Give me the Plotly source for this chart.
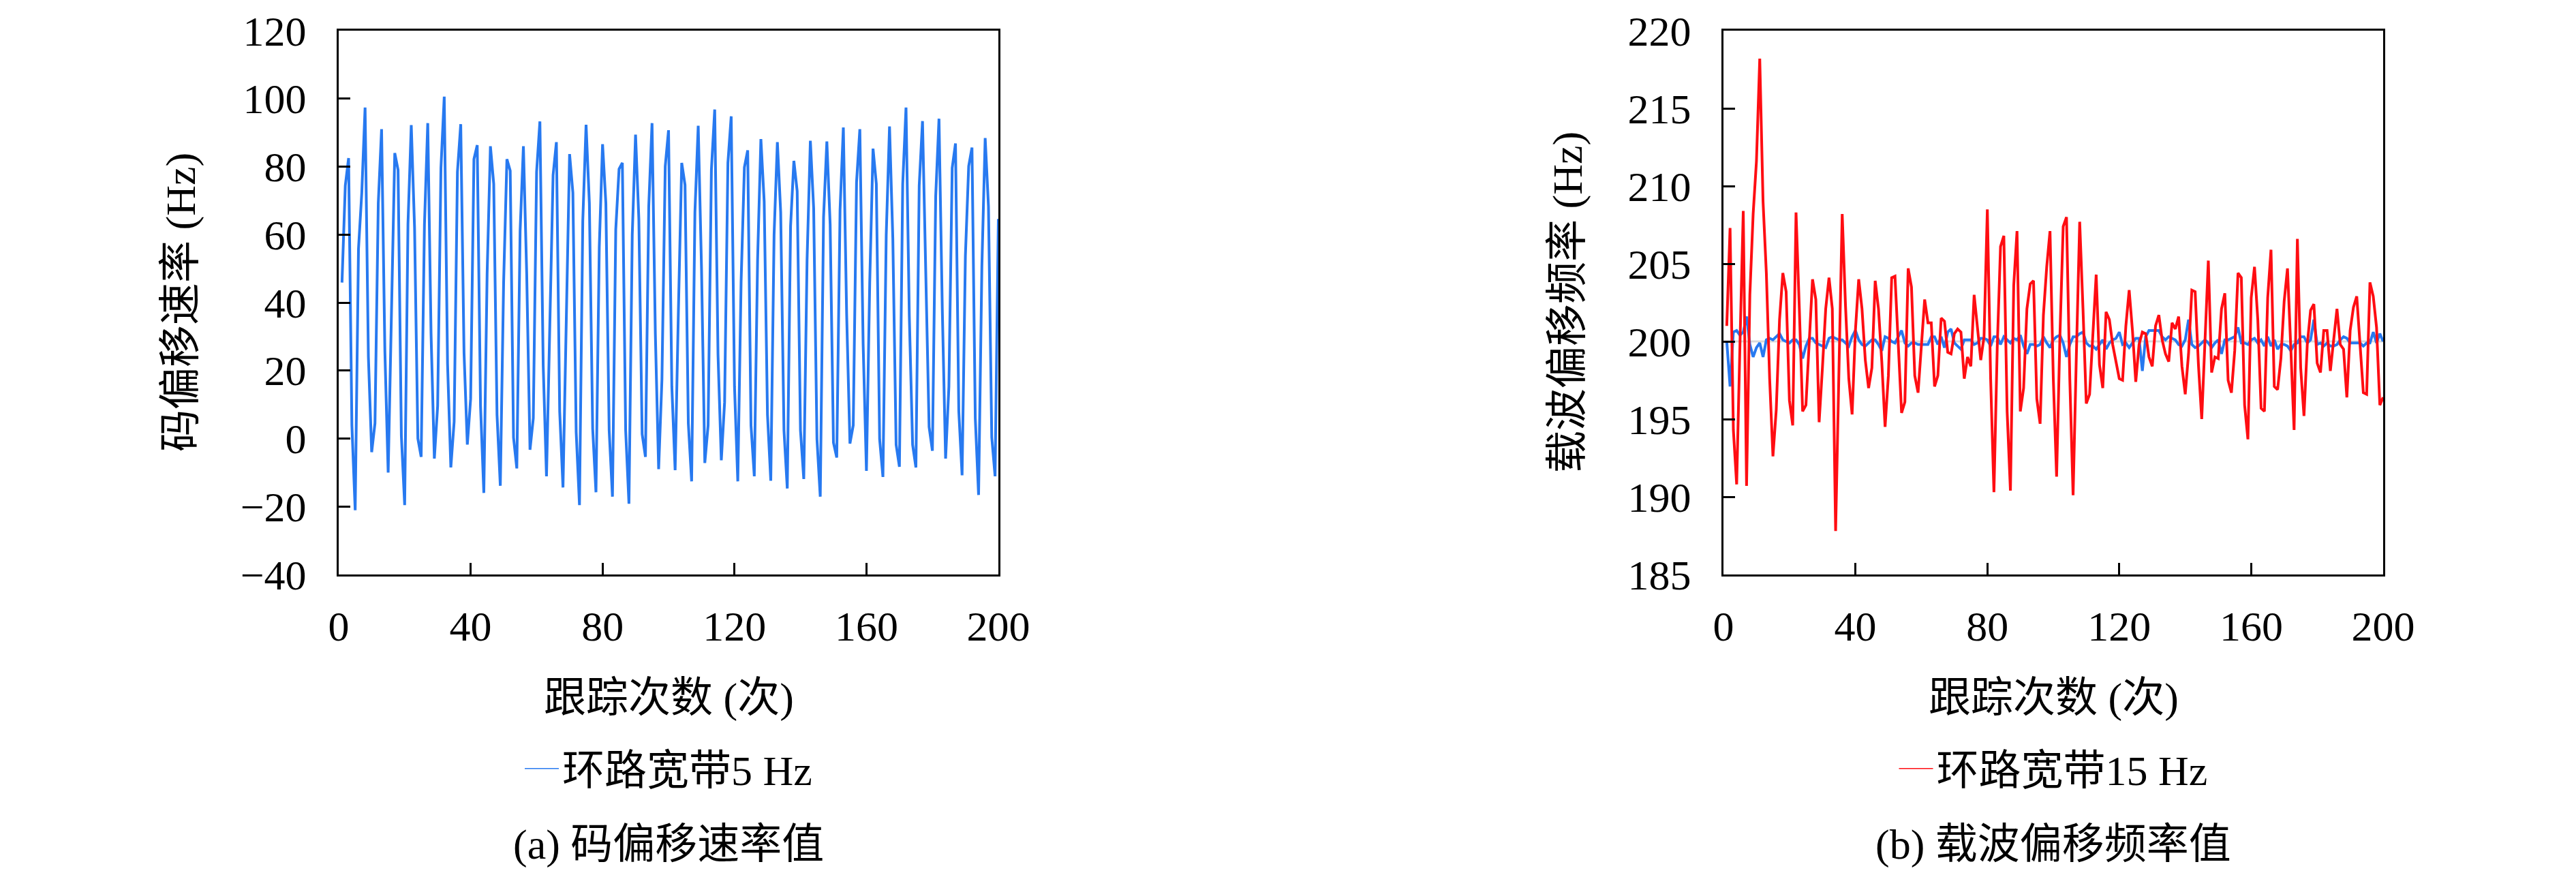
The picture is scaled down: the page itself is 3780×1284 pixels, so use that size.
import plotly.graph_objects as go

# tracking index 1..200
steps = list(range(1, 201))

# (a) code offset rate, loop bandwidth 5 Hz
code_rate_5hz = [
    45.9, 74.4, 82.5, 3.9, -21.1, 55.8, 72.3, 97.4, 24.1, -4.0,
    4.5, 69.2, 91.0, 25.7, -10.0, 37.0, 84.0, 79.0, 0.8, -19.6,
    63.0, 92.2, 62.0, 0.0, -5.4, 63.0, 92.8, 30.9, -5.9, 9.6,
    79.6, 100.6, 22.0, -8.5, 5.0, 78.5, 92.5, 25.2, -1.8, 11.7,
    82.2, 86.3, 9.6, -16.0, 48.5, 86.0, 74.9, 7.0, -13.9, 45.9,
    82.2, 78.8, 0.3, -8.8, 61.0, 86.0, 48.5, -3.3, 6.0, 78.5,
    93.3, 21.6, -11.1, 33.0, 77.5, 87.2, 8.0, -14.4, 40.0, 83.7,
    72.3, 1.9, -19.6, 64.0, 92.3, 69.2, 2.9, -15.8, 56.3, 86.6,
    69.2, 2.4, -17.1, 61.5, 79.3, 81.1, 2.4, -19.2, 59.9, 89.4,
    64.6, 1.3, -5.4, 68.2, 92.8, 30.9, -9.0, 17.4, 80.1, 90.7,
    15.3, -9.3, 38.0, 81.1, 74.6, 4.5, -12.6, 66.6, 92.0, 50.0,
    -7.2, 3.9, 79.1, 96.8, 24.7, -6.4, 10.7, 81.1, 94.8, 15.3,
    -12.6, 46.0, 79.8, 84.8, 3.9, -11.1, 52.6, 88.1, 69.7, 7.0,
    -12.4, 59.9, 87.2, 66.6, 2.4, -14.7, 62.5, 81.7, 72.8, 2.4,
    -11.9, 52.6, 87.6, 67.7, -0.2, -17.1, 65.1, 87.4, 63.0, -1.2,
    -5.6, 67.2, 91.5, 36.6, -1.5, 3.9, 75.4, 91.0, 27.8, -9.5,
    46.0, 85.3, 74.9, -0.2, -11.3, 59.9, 91.8, 58.9, -1.8, -8.3,
    74.9, 97.4, 36.0, -1.8, -8.5, 74.4, 93.4, 45.4, 3.4, -3.6,
    71.3, 94.1, 38.1, -5.9, 15.3, 79.6, 86.8, 8.1, -10.8, 53.7,
    80.1, 85.6, 6.0, -16.6, 50.6, 88.4, 68.2, 0.3, -11.1, 64.6,
]

# (b) carrier offset frequency, 15 Hz loop (red) and 5 Hz loop (blue)
carrier_15hz = [
    201.0, 207.3, 194.3, 190.8, 199.8, 208.4, 190.7, 203.0, 208.2, 211.6,
    218.2, 209.0, 204.4, 197.6, 192.6, 195.6, 201.4, 204.4, 203.2, 196.2,
    194.6, 208.3, 202.1, 195.5, 195.9, 199.8, 204.0, 202.7, 194.8, 198.3,
    202.1, 204.1, 202.1, 187.8, 198.0, 208.2, 202.3, 197.6, 195.3, 200.7,
    204.0, 202.1, 198.8, 197.0, 198.3, 203.9, 202.1, 198.7, 194.5, 197.8,
    204.1, 204.2, 199.8, 195.4, 196.1, 204.7, 203.5, 197.8, 196.7, 199.8,
    202.7, 201.2, 201.2, 197.1, 197.8, 201.5, 201.3, 199.3, 199.2, 200.5,
    200.8, 200.6, 197.6, 199.0, 198.4, 203.0, 200.7, 198.8, 200.3, 208.5,
    197.6, 190.3, 199.6, 206.1, 206.8, 195.5, 190.4, 203.6, 207.1, 195.5,
    197.0, 202.1, 203.7, 203.9, 196.3, 194.7, 201.7, 204.8, 207.1, 197.6,
    191.3, 200.3, 207.4, 208.0, 197.6, 190.1, 199.2, 207.7, 202.1, 196.0,
    196.6, 200.5, 204.3, 198.5, 197.0, 201.9, 201.4, 199.8, 198.7, 197.6,
    197.5, 201.0, 203.3, 200.7, 197.4, 199.8, 200.6, 200.5, 199.0, 198.4,
    201.0, 201.7, 200.1, 199.2, 198.7, 201.2, 200.8, 201.6, 198.4, 196.6,
    199.2, 203.3, 203.2, 198.5, 195.0, 199.8, 205.2, 198.0, 199.0, 198.9,
    202.1, 203.1, 197.5, 196.7, 199.4, 204.4, 204.1, 195.9, 193.7, 202.8,
    204.8, 201.4, 195.7, 195.5, 202.8, 205.9, 197.1, 196.9, 198.9, 202.6,
    204.7, 199.6, 194.3, 206.6, 198.3, 195.2, 199.8, 202.0, 202.4, 198.6,
    198.0, 200.7, 200.7, 198.1, 200.1, 202.1, 199.8, 199.5, 196.4, 200.7,
    202.2, 202.9, 199.8, 196.7, 196.6, 203.8, 202.9, 200.9, 195.9, 196.4,
]

carrier_5hz = [
    200.0, 197.1, 200.6, 200.7, 200.4, 200.6, 201.6, 199.8, 199.0, 199.6,
    199.9, 199.0, 200.1, 200.2, 200.1, 200.3, 200.5, 200.1, 200.0, 199.9,
    200.1, 200.1, 199.8, 198.9, 199.7, 200.2, 200.2, 199.9, 199.8, 199.7,
    199.6, 200.2, 200.3, 200.2, 200.1, 200.1, 199.9, 199.7, 200.3, 200.7,
    200.1, 199.8, 199.7, 199.9, 200.1, 200.1, 199.8, 199.4, 200.3, 200.2,
    200.0, 199.9, 200.3, 200.7, 199.9, 199.7, 199.9, 199.9, 199.8, 199.8,
    199.8, 199.8, 200.3, 200.3, 199.8, 200.3, 199.6, 200.6, 200.8, 199.9,
    199.7, 199.5, 200.1, 200.1, 200.1, 199.8, 199.9, 200.2, 200.2, 200.1,
    199.7, 200.3, 200.3, 199.8, 200.3, 200.1, 199.9, 200.2, 200.1, 200.4,
    199.7, 199.2, 199.8, 199.8, 199.7, 199.8, 200.3, 199.9, 199.6, 200.1,
    200.3, 200.4, 199.9, 199.0, 199.8, 200.3, 200.3, 200.5, 200.6, 199.9,
    199.7, 199.7, 199.5, 199.8, 200.1, 199.5, 199.9, 200.1, 200.2, 200.6,
    199.8, 199.9, 199.6, 199.9, 200.2, 200.2, 198.1, 200.3, 200.7, 200.7,
    200.7, 200.7, 200.3, 200.1, 200.3, 200.2, 200.1, 199.8, 199.7, 200.1,
    201.4, 199.8, 199.6, 199.7, 199.9, 200.1, 199.9, 199.6, 199.9, 200.1,
    199.2, 200.1, 200.1, 200.2, 200.3, 200.9, 199.9, 199.9, 199.8, 200.1,
    200.2, 199.9, 200.1, 199.7, 200.3, 199.7, 200.1, 199.5, 199.8, 199.8,
    199.7, 199.4, 199.8, 199.9, 200.3, 200.3, 199.9, 200.1, 201.4, 199.8,
    199.9, 199.7, 199.9, 199.7, 199.7, 199.8, 200.1, 200.3, 200.2, 199.9,
    199.9, 199.9, 199.9, 199.7, 199.9, 199.9, 200.6, 199.9, 200.5, 200.0,
]

carrier_nominal = 200

x_ticks = [0, 40, 80, 120, 160, 200]
y1_ticks = [-40, -20, 0, 20, 40, 60, 80, 100, 120]
y2_ticks = [185, 190, 195, 200, 205, 210, 215, 220]

BLUE = '#2779F0'
RED = '#FF0D12'
FONT = 'Liberation Serif, Noto Sans CJK SC, serif'
FS = 62

# the page body has an 8px margin, so the figure is a bit smaller than the window
PAGE_PAD = 8
W, H = 3780 - 2 * PAGE_PAD, 1284 - 2 * PAGE_PAD


def fx(px):
    return (px - PAGE_PAD) / W


def fy(py):
    return 1 - (py - PAGE_PAD) / H


fig = go.Figure()

# left panel
fig.add_trace(go.Scatter(x=steps, y=code_rate_5hz, mode='lines',
                         line=dict(color=BLUE, width=4),
                         xaxis='x', yaxis='y', showlegend=False))
fig.add_trace(go.Scatter(x=[None], y=[None], mode='lines', name='环路宽带5 Hz',
                         line=dict(color=BLUE, width=1.5),
                         xaxis='x', yaxis='y', legend='legend'))

# right panel
fig.add_trace(go.Scatter(x=steps, y=carrier_5hz, mode='lines',
                         line=dict(color=BLUE, width=4),
                         xaxis='x2', yaxis='y2', showlegend=False))
fig.add_trace(go.Scatter(x=steps, y=carrier_15hz, mode='lines',
                         line=dict(color=RED, width=4),
                         xaxis='x2', yaxis='y2', showlegend=False))
fig.add_trace(go.Scatter(x=[None], y=[None], mode='lines', name='环路宽带15 Hz',
                         line=dict(color=RED, width=1.5),
                         xaxis='x2', yaxis='y2', legend='legend2'))

# nominal carrier reference line
fig.add_shape(type='line', xref='x2 domain', yref='y2', x0=0, x1=1,
              y0=carrier_nominal, y1=carrier_nominal,
              line=dict(color='#d9d9d9', width=3), layer='below')

# top edge kept a little lower so the top tick labels stay inside the page
dom1 = [fx(497), fx(1465)]
dom2 = [fx(2529), fx(3497)]
ydom = [fy(843), fy(45)]

axis_common = dict(showline=True, mirror=True, linecolor='black', linewidth=3,
                   ticks='inside', ticklen=17, tickwidth=3, tickcolor='black',
                   showgrid=False, zeroline=False, automargin=False,
                   ticklabeloverflow='allow',
                   tickfont=dict(family=FONT, size=FS, color='black'))

legend_common = dict(y=fy(1128), xanchor='center', yanchor='middle',
                     itemwidth=50, bgcolor='rgba(0,0,0,0)',
                     font=dict(family=FONT, size=FS, color='black'))

fig.update_layout(
    template='none',
    width=W, height=H,
    margin=dict(l=0, r=0, t=0, b=0, autoexpand=False),
    paper_bgcolor='white', plot_bgcolor='white',
    font=dict(family=FONT, size=FS, color='black'),
    xaxis=dict(domain=dom1, anchor='y', range=[0, 200], tickvals=x_ticks,
               ticklabelstandoff=20, **axis_common),
    yaxis=dict(domain=ydom, anchor='x', range=[-40, 120], tickvals=y1_ticks,
               ticklabelstandoff=32, **axis_common),
    xaxis2=dict(domain=dom2, anchor='y2', range=[0, 200], tickvals=x_ticks,
                ticklabelstandoff=20, **axis_common),
    yaxis2=dict(domain=ydom, anchor='x2', range=[185, 220], tickvals=y2_ticks,
                ticklabelstandoff=32, **axis_common),
    legend=dict(x=sum(dom1) / 2, **legend_common),
    legend2=dict(x=sum(dom2) / 2, **legend_common),
)

# axis titles
notes = [
    (sum(dom1) / 2, fy(1024), '跟踪次数 (次)', 0),
    (sum(dom2) / 2, fy(1024), '跟踪次数 (次)', 0),
    (fx(265), sum(ydom) / 2, '码偏移速率 (Hz)', -90),
    (fx(2300), sum(ydom) / 2, '载波偏移频率 (Hz)', -90),
]
for x, y, text, angle in notes:
    fig.add_annotation(x=x, y=y, xref='paper', yref='paper', text=text,
                       showarrow=False, textangle=angle,
                       xanchor='center', yanchor='middle',
                       font=dict(family=FONT, size=FS, color='black'))

# sub-figure captions, sitting on the bottom edge
for x, text in [(sum(dom1) / 2, '(a) 码偏移速率值'), (sum(dom2) / 2, '(b) 载波偏移频率值')]:
    fig.add_annotation(x=x, y=0, xref='paper', yref='paper', text=text,
                       showarrow=False, xanchor='center', yanchor='bottom',
                       font=dict(family=FONT, size=FS, color='black'))

fig.write_html("out.html")
